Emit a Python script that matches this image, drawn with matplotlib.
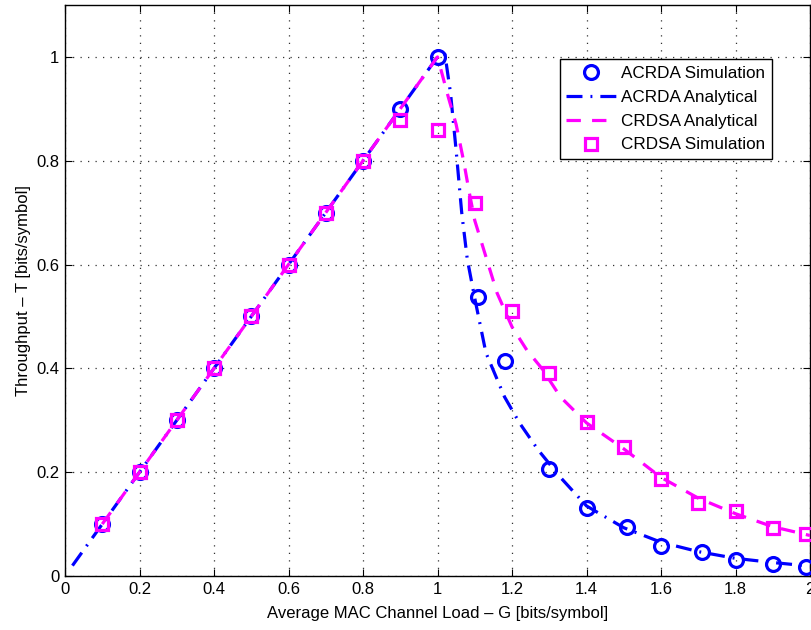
import matplotlib
matplotlib.use("Agg")
import matplotlib.pyplot as plt

plt.rcParams['font.family'] = ['Liberation Sans', 'DejaVu Sans']

# ACRDA simulation (circles)
acrda_sim_x = [0.1, 0.2, 0.3, 0.4, 0.5, 0.6, 0.7, 0.8, 0.9, 1.0,
               1.11, 1.18, 1.30, 1.40, 1.51, 1.60, 1.71, 1.80, 1.90, 1.99]
acrda_sim_y = [0.10, 0.20, 0.30, 0.40, 0.50, 0.60, 0.70, 0.80, 0.90, 1.00,
               0.537, 0.414, 0.206, 0.131, 0.094, 0.058, 0.046, 0.031, 0.023, 0.017]

# ACRDA analytical (dash-dot)
acrda_an_x = [0.02, 1.0, 1.02, 1.035, 1.05, 1.065, 1.08, 1.1, 1.13, 1.18, 1.22, 1.27,
              1.33, 1.4, 1.5, 1.6, 1.7, 1.8, 1.9, 2.0]
acrda_an_y = [0.02, 1.0, 1.005, 0.93, 0.82, 0.70, 0.61, 0.535, 0.43, 0.345, 0.295, 0.243,
              0.19, 0.135, 0.093, 0.065, 0.047, 0.034, 0.026, 0.019]

# CRDSA analytical (dashed)
crdsa_an_x = [0.1, 1.0, 1.03, 1.05, 1.07, 1.085, 1.1, 1.13, 1.16, 1.2, 1.24, 1.28,
              1.33, 1.4, 1.5, 1.6, 1.7, 1.8, 1.9, 2.0]
crdsa_an_y = [0.1, 1.0, 0.92, 0.87, 0.80, 0.74, 0.685, 0.615, 0.545, 0.48, 0.435, 0.40,
              0.345, 0.295, 0.245, 0.19, 0.15, 0.12, 0.095, 0.078]

# CRDSA simulation (squares)
crdsa_sim_x = [0.1, 0.2, 0.3, 0.4, 0.5, 0.6, 0.7, 0.8, 0.9, 1.0,
               1.10, 1.20, 1.30, 1.40, 1.50, 1.60, 1.70, 1.80, 1.90, 1.99]
crdsa_sim_y = [0.10, 0.20, 0.30, 0.40, 0.50, 0.60, 0.70, 0.80, 0.878, 0.86,
               0.719, 0.511, 0.391, 0.297, 0.249, 0.187, 0.141, 0.125, 0.092, 0.081]

xticks = [0, 0.2, 0.4, 0.6, 0.8, 1, 1.2, 1.4, 1.6, 1.8, 2]
xticklabels = ['0', '0.2', '0.4', '0.6', '0.8', '1', '1.2', '1.4', '1.6', '1.8', '2']
yticks = [0, 0.2, 0.4, 0.6, 0.8, 1]
yticklabels = ['0', '0.2', '0.4', '0.6', '0.8', '1']

fig = plt.figure(figsize=(8.11, 6.3), dpi=100)
ax = fig.add_axes([65/811, 54/630, 745/811, 571/630])

blue = '#0000ff'
mag = '#ff00ff'
lw = 2.3

ax.plot(acrda_sim_x, acrda_sim_y, linestyle='none', marker='o', markersize=10,
        markerfacecolor='none', markeredgecolor=blue, markeredgewidth=2.3,
        label='ACRDA Simulation', zorder=3)
ax.plot(acrda_an_x, acrda_an_y, color=blue, linewidth=lw, linestyle=(0, (5, 2.5, 0.6, 2.5)),
        label='ACRDA Analytical', zorder=3)
ax.plot(crdsa_an_x, crdsa_an_y, color=mag, linewidth=lw, linestyle=(0, (4.5, 3.5)),
        label='CRDSA Analytical', zorder=4)
ax.plot(crdsa_sim_x, crdsa_sim_y, linestyle='none', marker='s', markersize=8,
        markerfacecolor='none', markeredgecolor=mag, markeredgewidth=2.3,
        label='CRDSA Simulation', zorder=5)

ax.set_xlim(0, 2)
ax.set_ylim(0, 1.1)
ax.set_xticks(xticks)
ax.set_xticklabels(xticklabels)
ax.set_yticks(yticks)
ax.set_yticklabels(yticklabels)
ax.tick_params(direction='in', length=5, width=0.8, labelsize=12, top=True, right=True,
               labeltop=False, labelright=False, pad=4)
ax.grid(True, linestyle=(0, (1, 5)), color='#333333', linewidth=0.9)
for s in ax.spines.values():
    s.set_linewidth(1.0)

ax.set_xlabel('Average MAC Channel Load – G [bits/symbol]', fontsize=12, labelpad=7)
ax.set_ylabel('Throughput – T [bits/symbol]', fontsize=12, labelpad=4)

leg = ax.legend(loc='upper right', bbox_to_anchor=(1 - 38/745, 1 - 54/571),
                fontsize=12.3, frameon=True, fancybox=False, edgecolor='black',
                framealpha=1, borderpad=0.4, handlelength=2.9, labelspacing=0.52,
                handletextpad=0.3, borderaxespad=0.0)
leg.get_frame().set_linewidth(1.0)

fig.savefig('out.png', dpi=100)
